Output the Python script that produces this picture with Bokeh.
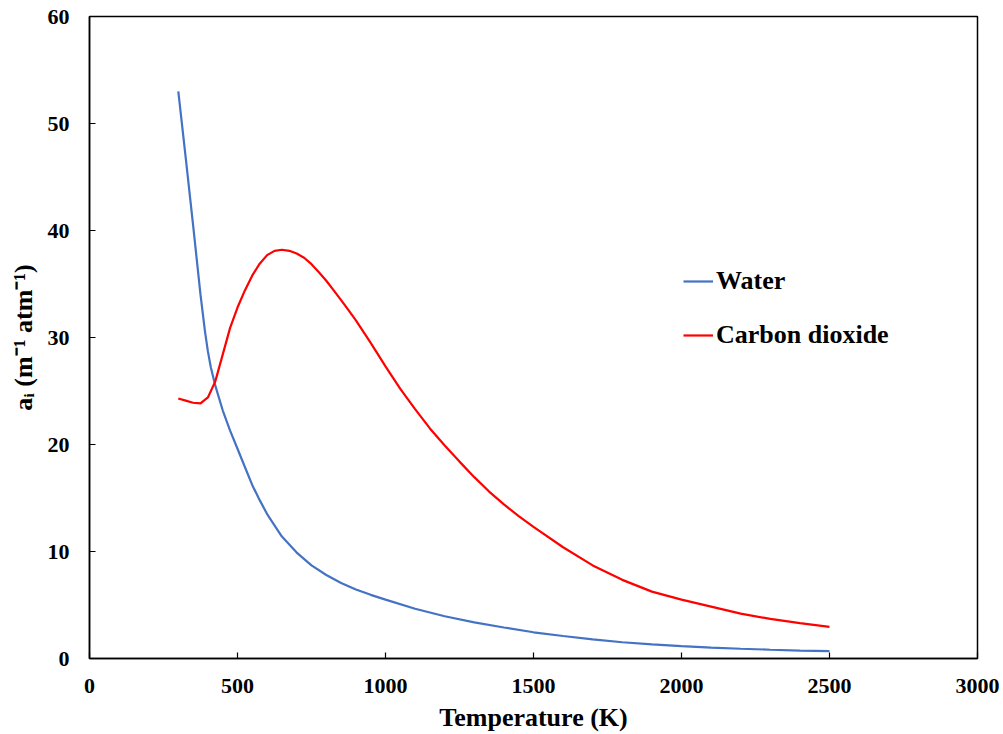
from bokeh.plotting import figure
from bokeh.models import ColumnDataSource, Range1d, FixedTicker, Legend, LegendItem
from bokeh.embed import file_html
from bokeh.resources import INLINE

# Water absorption coefficient
water_T = [300, 325, 350, 375, 390, 400, 410, 425, 450, 475, 500, 525, 550, 575, 600,
           650, 700, 750, 800, 850, 900, 950, 1000, 1100, 1200, 1300, 1400, 1500, 1600,
           1700, 1800, 1900, 2000, 2100, 2200, 2300, 2400, 2500]
water_a = [53.0, 46.8, 40.5, 34.0, 30.6, 28.7, 27.2, 25.5, 23.2, 21.3, 19.6, 17.9, 16.2,
           14.8, 13.5, 11.4, 9.9, 8.7, 7.8, 7.05, 6.45, 5.95, 5.5, 4.65, 3.95, 3.38, 2.9,
           2.45, 2.1, 1.78, 1.52, 1.32, 1.15, 1.02, 0.91, 0.82, 0.74, 0.68]

# Carbon dioxide absorption coefficient
co2_T = [300, 325, 350, 375, 400, 425, 450, 475, 500, 525, 550, 575, 600, 625, 650,
         675, 700, 725, 750, 775, 800, 825, 850, 875, 900, 950, 1000, 1050, 1100, 1150,
         1200, 1250, 1300, 1350, 1400, 1450, 1500, 1600, 1700, 1800, 1900, 2000, 2100,
         2200, 2300, 2400, 2500]
co2_a = [24.3, 24.1, 23.9, 23.85, 24.4, 25.9, 28.4, 30.9, 32.8, 34.4, 35.8, 36.9, 37.7,
         38.1, 38.2, 38.1, 37.85, 37.45, 36.85, 36.1, 35.3, 34.4, 33.5, 32.55, 31.6, 29.5,
         27.3, 25.2, 23.3, 21.5, 19.9, 18.4, 16.95, 15.6, 14.4, 13.3, 12.3, 10.4, 8.7,
         7.35, 6.25, 5.5, 4.85, 4.2, 3.7, 3.3, 2.96]

x_ticks = [0, 500, 1000, 1500, 2000, 2500, 3000]
y_ticks = [0, 10, 20, 30, 40, 50, 60]
series_names = ["Water", "Carbon dioxide"]

FONT = "Liberation Serif"

p = figure(width=1003, height=734, output_backend="svg", toolbar_location=None,
           x_range=Range1d(0, 3000), y_range=Range1d(0, 60),
           min_border_left=89, min_border_right=26, min_border_top=16, min_border_bottom=75)

p.xgrid.visible = False
p.ygrid.visible = False
p.outline_line_color = "black"
p.outline_line_width = 1.5
p.outline_line_alpha = 1.0
p.background_fill_color = "white"
p.border_fill_color = "white"

p.xaxis.ticker = FixedTicker(ticks=x_ticks)
p.yaxis.ticker = FixedTicker(ticks=y_ticks)

for ax in (p.xaxis[0], p.yaxis[0]):
    ax.axis_line_color = "black"
    ax.axis_line_width = 1.5
    ax.major_tick_in = 6
    ax.major_tick_out = 0
    ax.major_tick_line_color = "black"
    ax.major_tick_line_width = 1.2
    ax.minor_tick_line_color = None
    ax.major_label_text_font = FONT
    ax.major_label_text_font_style = "bold"
    ax.major_label_text_font_size = "22px"
    ax.major_label_text_color = "black"
    ax.axis_label_text_font = FONT
    ax.axis_label_text_font_style = "bold"
    ax.axis_label_text_font_size = "26px"
    ax.axis_label_text_color = "black"

p.xaxis.axis_label = "Temperature (K)"
p.xaxis.major_label_standoff = 20
p.xaxis.axis_label_standoff = 7
p.yaxis.axis_label = "a\u1d62 (m\u207b\u00b9 atm\u207b\u00b9)"
p.yaxis.major_label_standoff = 20
p.yaxis.axis_label_standoff = 7

src_w = ColumnDataSource(dict(T=water_T, a=water_a))
src_c = ColumnDataSource(dict(T=co2_T, a=co2_a))

rw = p.line("T", "a", source=src_w, line_color="#4472C4", line_width=2.2)
rc = p.line("T", "a", source=src_c, line_color="#FF0000", line_width=2.2)

legend = Legend(items=[LegendItem(label=series_names[0], renderers=[rw]),
                       LegendItem(label=series_names[1], renderers=[rc])],
                location=(594, 308))
legend.label_text_font = FONT
legend.label_text_font_style = "bold"
legend.label_text_font_size = "26px"
legend.label_text_color = "black"
legend.glyph_width = 30
legend.label_standoff = 3
legend.spacing = 24
legend.padding = 0
legend.margin = 0
legend.border_line_alpha = 0
legend.background_fill_alpha = 0
p.add_layout(legend)

open("out.html", "w").write(file_html(p, INLINE))
